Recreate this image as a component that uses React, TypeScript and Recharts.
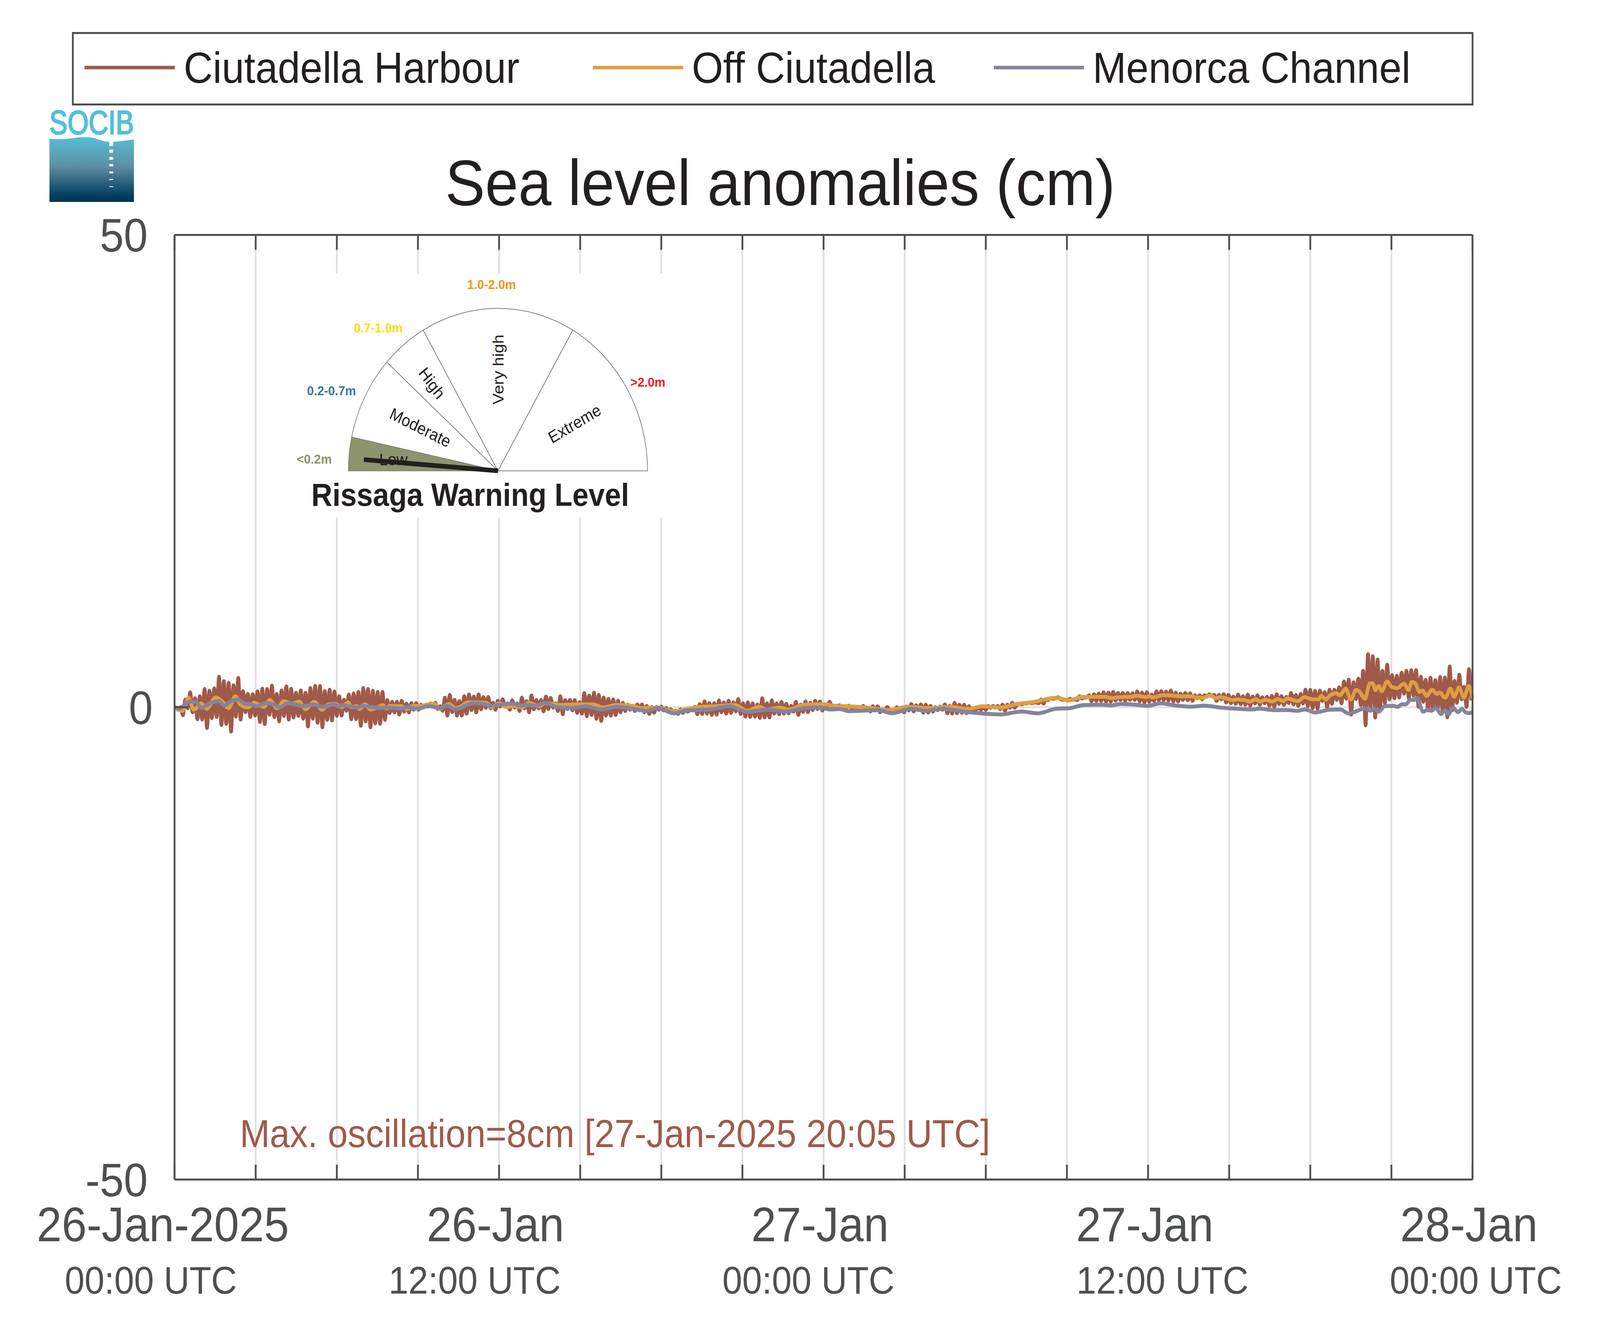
import { CartesianGrid, Cell, Line, LineChart, Pie, PieChart, XAxis, YAxis } from "recharts";

const W = 4450;
const H = 3395;
const PLOT = { left: 485.5, right: 4095.5, top: 601.5, bottom: 3020 };
const TICK_LEN = 38;
const AXIS = "#4d4f51";
const GRID = "#e0e1e3";
const INK = "#231f20";
const FONT = "'Liberation Sans', Arial, sans-serif";

const seriesNames = ["Ciutadella Harbour", "Off Ciutadella", "Menorca Channel"];
const seriesColors = ["#a05a4a", "#df9e41", "#83849e"];

const hourTicks = [0, 3, 6, 9, 12, 15, 18, 21, 24, 27, 30, 33, 36, 39, 42, 45, 48];
const labelledHours = [0, 12, 24, 36, 48];
const dateLabels = ["26-Jan-2025", "26-Jan", "27-Jan", "27-Jan", "28-Jan"];
const timeLabels = ["00:00 UTC", "12:00 UTC", "00:00 UTC", "12:00 UTC", "00:00 UTC"];
const cmTicks = [-50, 0, 50];

// Harbour: successive crests and troughs of the seiche, read peak by peak
const harbourHigh = [
  0.1, 0, 0.82, 1.57, 0.95, 1.16, 1.92, 1.75, 1.99, 3.23,
  2.75, 2.57, 2.33, 3.09, 1.71, 1.41, 1.37, 1.67, 1.95, 1.92,
  2.29, 1.41, 1.78, 2.2, 1.95, 1.53, 1.78, 1.53, 2.03, 2.24,
  2.24, 1.71, 1.85, 1.67, 1.16, 0.79, 1.34, 1.46, 1.62,
  2.03, 1.92, 1.74, 1.62, 1.62, 0.75, 0.58, 0.58, 0.68, 0.37,
  0.43, 0.43, 0.26, 0.26, 0.4, 0.47, 0.1, 1.0, 1.3, 0.79,
  0.65, 1.16, 1.34, 1.12, 1.34, 1.06, 1.09, 0.47, 0.68, 0.84,
  0.4, 0.72, 0.4, 1.01, 0.64, 1.24, 0.75, 0.76, 1.13,
  0.98, 0.4, 1.16, 0.75, 0.78, 0.75, 0.54, 1.5, 1.23, 1.53,
  1.3, 1.02, 0.89, 0.82, 0.68, 0.47, 0.27, 0.13, 0.29,
  0.29, 0.13, 0.03, 0.03, 0.06, -0.08, -0.22, -0.36, -0.22, -0.22,
  -0.29, 0.03, 0.33, 0.61, 0.43, 0.43, 0.71, 0.5, 0.68, 0.51,
  0.86, 0.4, 0.51, 0.4, 0.29, 0.95, 0.4, 0.72, 0.4, 0.57,
  0.37, 0.13, 0.57, 0.27, 0.61, 0.47, 0.68, 0.61, 0.27, 0.57,
  0.13, 0.2, 0.06, 0.15, -0.18, -0.29, 0.13, -0.08, 0.1, 0.09,
  -0.22, 0.02, -0.29, 0, -0.08, 0.06, 0.33, 0.2, 0.29, 0.27,
  0.13, 0, 0.06, 0.29, 0.15, 0.47, 0.27, 0.27, 0.1, -0.15,
  0, 0.06, 0.13, 0.13, 0.13, 0.27, 0.27, 0.47, 0.27, 0.31,
  0.4, 0.43, 0.51, 0.82, 0.82, 0.95, 0.95, 0.89, 0.82, 0.89,
  0.82, 1.16, 1.02, 1.26, 1.37, 1.44, 1.57,
  1.54, 1.62, 1.51, 1.51, 1.51, 1.47, 1.67, 1.55, 1.59, 1.34,
  1.67, 1.7, 1.65, 1.76, 1.54, 1.43, 1.51, 1.47, 1.26, 1.26,
  1.26, 1.37, 1.3, 1.3, 1.37, 1.3, 1.12, 1.34, 1.17, 1.34,
  1.14, 1.26, 1.05, 1.1, 1.2, 1.37, 1.17, 1.1,
  1.51, 1.3, 1.41, 1.85, 1.83, 1.72, 1.76, 1.58, 1.85, 1.85,
  2.1, 2.72, 2.91, 2.64, 3.03, 3.85, 5.6, 5.4, 5.05, 3.85,
  4.5, 3.4, 3.33, 3.65, 3.85, 3.92, 3.92, 3.23, 2.89, 3.12,
  2.86, 3.19, 3.14, 4.31, 2.78, 3.44, 2.16, 4.02,
];

const harbourLow = [
  -0.26, -0.84, -0.1, -0.54, -1.27, -1.3, -2.19, -1.16, -1.02, -1.88,
  -1.75, -2.57, -0.99, -1.3, -0.51, -1.02, -0.88, -1.57, -1.78, -0.79,
  -1.05, -1.5, -0.92, -1.3, -1.09, -0.92, -1.21, -2.03, -1.21, -1.64,
  -2.12, -1.34, -1.41, -0.91, -0.88, -0.37, -1.27, -1.26,
  -1.96, -1.5, -2.12, -1.71, -1.75, -1.34, -0.61, -0.54, -0.76, -0.47,
  -0.54, -0.26, -0.26, 0.01, 0.08, 0.08, -0.19, -0.37, -0.88, -0.51,
  -0.88, -0.88, -0.68, -0.3, -0.54, -0.22, -0.06, -0.12, -0.26, 0.08,
  0.08, -0.26, -0.03, -0.4, -0.12, -0.54, -0.22, -0.12, -0.43, -0.19,
  -0.05, -0.4, -0.74, -0.19, -0.33, -0.6, -0.67, -0.95, -0.81, -1.22,
  -1.46, -0.88, -0.88, -0.81, -0.53, -0.4, -0.26, -0.4, -0.33,
  -0.53, -0.71, -0.57, -0.26, -0.33, -0.4, -0.53, -0.71, -0.6, -0.46,
  -0.33, -0.74, -0.71, -0.67, -0.81, -0.78, -0.53, -0.67, -0.6, -0.44,
  -0.71, -0.99, -1.02, -0.99, -1.13, -1.08, -1.08, -0.67, -0.74, -0.67,
  -0.64, -0.46, -0.81, -0.49, -0.53, -0.3, -0.19, -0.35, 0.09, 0.09,
  0.02, 0.09, -0.05, -0.05, -0.26, -0.26, -0.33, -0.44, -0.33, -0.53,
  -0.4, -0.33, -0.46, -0.46, -0.53, -0.33, -0.44, -0.3, -0.57, -0.57,
  -0.46, -0.3, -0.26, -0.64, -0.67, -0.63, -0.6, -0.63, -0.4, -0.26,
  -0.26, -0.26, -0.05, -0.05, -0.19, -0.35, -0.05, -0.05, 0.36, 0.43,
  0.5, 0.5, 0.43, 0.39, 0.78, 0.9, 1.05, 0.78, 0.71, 0.78,
  0.78, 0.94, 1.05, 0.64, 0.67, 0.67,
  0.6, 0.6, 0.71, 0.78, 0.71, 0.78, 0.78, 0.61, 0.5, 0.57,
  0.67, 0.75, 0.75, 0.71, 0.61, 0.61, 0.78, 0.75, 0.68, 0.96,
  0.85, 1.12, 1.19, 0.67, 0.85, 0.5, 0.43, 0.36, 0.32, 0.27,
  0.16, 0.4, 0.27, 0.43, 0.16, 0.06, 0.36, 0.25, 0.45,
  0.29, 0.13, 0.4, 0.11, -0.08, -0.15, 0.66, 0.02, 0.36, 0.78,
  0.4, 0.91, -0.78, 0.87, 0.22, -1.91, 0.08, -1.09, -0.4, 0.43,
  0.84, 0.95, 1.02, 1.44, 0.91, 1.22, 0.06, 0.57, -0.33, -0.2,
  -0.19, -0.33, -1.06, -0.33, 0.47, 0.84, 0.04, 0.71,
];

const offHours = [
  0, 0.3, 0.52, 0.71, 0.99, 1.19, 1.52, 1.77, 2.0, 2.25, 2.43, 2.73, 2.94, 3.1, 3.3, 3.52, 3.8, 4.03, 4.36, 4.6,
  4.85, 5.16, 5.46, 5.69, 5.93, 6.18, 6.42, 6.55, 6.73,
  6.84, 7.04, 7.24, 7.46, 7.7, 7.84, 7.95, 8.15, 8.37, 8.59, 8.83, 9.1, 9.46, 9.61, 9.79, 10.16, 10.39, 10.61, 10.85, 11.21,
  11.52, 11.72, 12.03, 12.23, 12.56, 12.87, 13.09, 13.49, 13.71,
  14.26, 14.87, 15.47, 15.85, 16.35, 16.8, 17.07,
  17.21, 17.87, 18.48, 18.86, 19.47, 20.02, 20.72, 21.18, 21.62, 21.9, 22.39, 22.72, 23.22, 23.71, 24.05, 24.38, 24.82, 25.26,
  25.81, 26.36, 27.13, 27.96, 28.68, 29.34, 29.89, 30.55, 31.1, 31.76, 32.59, 33.09, 33.53, 34.41,
  34.67, 34.94, 35.12, 35.38, 35.6, 35.91, 36.05, 36.18, 36.56, 36.89, 37.33, 37.55, 37.78, 38.0, 38.31, 38.51, 38.66, 38.93,
  39.15, 39.26, 39.59, 39.75, 39.99, 40.13, 40.35, 40.59, 40.79, 41.01,
  41.14, 41.54, 41.78, 42.03, 42.31, 42.4, 42.58, 42.71, 42.96, 43.09, 43.31, 43.5, 43.69, 43.82, 44.02, 44.2, 44.31, 44.41,
  44.53, 44.64, 44.84, 45.02, 45.22, 45.46, 45.64, 45.75, 45.88, 46.04, 46.15, 46.3, 46.5, 46.68, 46.79, 46.99, 47.18, 47.32,
  47.5, 47.68, 47.86, 48,
];

const offCm = [
  -0.03, -0.37, 1.0, -0.26, 0.39, -0.17, 1.03, 0.59, -0.1, 1.17, 0.29, -0.03, 0.48, 0.29, 0.04, 0.77, -0.12, 0.63, 0.38, 0.59,
  -0.21, 0.57, -0.26, 0.29, 0.34, 0.01, 0.52, 0.01, 0.11,
  -0.17, 0.32, -0.24, -0.07, 0.21, -0.15, 0.15, 0.11, 0.11, -0.17, 0.15, 0.11, 0.34, 0.34, -0.17, 0.34, -0.1, 0.11, 0.52, 0.52,
  0.48, 0.01, 0.43, 0.04, 0.11, 0, 0.48, 0.11, 0.43,
  0.24, 0.3, 0.3, -0.03, 0.24, 0.2, 0.04,
  -0.1, -0.03, -0.45, -0.24, 0.04, 0.1, 0.24, -0.38, 0.04, -0.24, -0.03, -0.24, 0.22, 0.31, 0.31, 0.17, 0.1, 0.04,
  -0.1, -0.31, 0.04, -0.1, 0.04, -0.17, 0.1, -0.03, 0.31, 0.55, 1.0, 0.73, 1.07, 1.11,
  0.97, 1.07, 1.09, 1.11, 1.21, 1.07, 1.14, 1.04, 1.28, 1.23, 1.14, 1.17, 1.03, 1.0, 1.25, 0.96, 1.07, 0.89,
  0.75, 0.83, 0.75, 0.59, 0.83, 0.61, 0.79, 0.61, 0.86, 0.66,
  0.93, 0.65, 1.07, 0.86, 0.83, 1.2, 0.83, 1.2, 1.48, 1.27, 1.96, 0.83, 1.83, 1.65, 0.89, 2.52, 2.52, 1.8,
  2.24, 1.69, 2.72, 2.14, 2.03, 2.49, 1.83, 2.68, 2.54, 1.62, 1.76, 1.2, 1.85, 1.41, 1.55, 1.0, 1.96, 1.11,
  2.1, 1.03, 2.24, 0.93,
];

const menorcaHours = [
  0, 0.21, 0.37, 0.59, 0.77, 0.99, 1.26, 1.63, 1.85, 2.01, 2.36, 2.59, 2.81, 3.03, 3.38, 3.65, 3.89, 4.18, 4.45, 4.76,
  5.11, 5.47, 5.89, 6.07, 6.2, 6.49, 6.77,
  6.93, 7.24, 7.59, 7.9, 8.35, 8.61, 8.97, 9.41, 9.81, 10.08, 10.39, 11.05, 11.36, 11.72, 12.16, 12.54, 12.78, 13.09, 13.31, 13.7,
  14.15, 14.7, 15.19, 15.8, 16.35, 17.12,
  17.43, 17.87, 18.48, 18.86, 19.86, 20.52, 21.18, 21.95, 22.61, 23.38, 23.83, 24.27, 24.6, 24.93, 26.03, 26.53, 27.24, 27.79,
  28.35, 29.34, 30.55, 31.32, 31.93, 32.59, 33.09, 33.64,
  34.23, 34.67, 34.98, 35.56, 35.96, 36.49, 36.89, 37.6, 38.09, 38.66, 39.33, 39.9, 40.08, 40.7, 41.12,
  41.54, 41.8, 42.18, 42.69, 43.11, 43.42, 43.8, 44.04, 44.22, 44.35, 44.53, 44.75, 45.09, 45.22, 45.39, 45.53, 45.71, 45.86,
  45.95, 46.17, 46.35, 46.48, 46.64, 46.84, 46.99, 47.1, 47.28, 47.46, 47.61, 47.75, 47.9, 48,
];

const menorcaCm = [
  0, -0.14, 0.29, 0.59, 0.59, -0.06, 0.32, 0.66, 0.18, 0.52, 0.8, 0.39, 0.32, 0.11, 0.43, 0.32, 0, 0.41, 0.32, 0.11,
  0.29, 0.04, 0.29, 0.07, 0.21, 0.11, -0.03,
  0.15, 0.04, -0.07, -0.03, -0.14, 0.01, -0.14, 0.11, -0.07, 0.15, -0.21, 0.43, 0.38, 0.15, 0.32, 0.38, 0.18, 0.25, 0.15, 0.45,
  0.01, -0.07, 0.1, -0.24, 0.04, -0.24,
  -0.38, -0.1, -0.65, -0.38, -0.21, 0.1, -0.49, -0.24, -0.45, -0.06, -0.03, -0.24, -0.2, -0.41, -0.31, -0.63, -0.17, -0.38,
  -0.17, -0.52, -0.76, -0.45, -0.65, -0.17, -0.1, 0.24,
  0.27, 0.2, 0.34, 0.27, 0.14, 0.41, 0.24, 0.06, 0.17, -0.03, -0.17, -0.24, -0.14, -0.31, -0.3,
  -0.38, -0.24, -0.56, -0.27, -0.24, -0.66, -0.31, -0.1, -0.38, -0.13, -0.48, 0.1, 0.14, 0.03, 0.31, 0.31, 0.79, 0.79,
  0.97, -0.48, -0.24, -0.38, -0.08, -0.73, -0.31, -0.79, -0.04, -0.52, -0.17, -0.55, -0.62, -0.49,
];

// Rissaga gauge: sector names, how wide each sector is (degrees of the half circle)
const gaugeNames = ["Low", "Moderate", "High", "Very high", "Extreme"];
const gaugeWidths = [12, 30, 18, 60, 60];
const gaugeFills = ["#8c956e", "#ffffff", "#ffffff", "#ffffff", "#ffffff"];
const gaugeRanges = ["<0.2m", "0.2-0.7m", "0.7-1.0m", "1.0-2.0m", ">2.0m"];
const gaugeRangeColors = ["#8c956e", "#3a7a94", "#ffdd00", "#f7941d", "#ee1c25"];
const needleDeg = 175.6;

const cycle = 48 / harbourHigh.length;
const harbourData = harbourHigh.flatMap((hi, i) => [
  { hour: (i + 0.25) * cycle, cm: hi },
  { hour: (i + 0.75) * cycle, cm: harbourLow[i] },
]);
const offData = offHours.map((hour, i) => ({ hour, cm: offCm[i] }));
const menorcaData = menorcaHours.map((hour, i) => ({ hour, cm: menorcaCm[i] }));
const gaugeData = gaugeNames.map((name, i) => ({ name, value: gaugeWidths[i] }));

const GAUGE = { cx: 1385, cy: 1205.5, r: 416, needle: 374 };

// where each label's centre sits relative to its tick, the original is not regular
const dateShift = [-32.5, -10, -10, -9, -10];
const timeShift = [-66, -68, -42, 40, 9];

const gaugeLabels = [
  { x: 1169, y: 1095, rot: 25 },
  { x: 1201, y: 981, rot: 52 },
  { x: 1386, y: 946, rot: -90 },
  { x: 1598, y: 1085, rot: -29 },
];
const rangeSpots = [
  { x: 874, y: 1187 },
  { x: 922, y: 1012 },
  { x: 1052, y: 851 },
  { x: 1367, y: 740 },
  { x: 1802, y: 990 },
];
const legendSpots = [
  { line: 235, text: 511 },
  { line: 1649, text: 1924 },
  { line: 2764, text: 3039 },
];

function XTick({ x, payload }: any) {
  const k = labelledHours.indexOf(payload.value);
  return (
    <g>
      <line x1={x} x2={x} y1={PLOT.bottom} y2={PLOT.bottom - TICK_LEN} stroke={AXIS} strokeWidth={5} />
      <line x1={x} x2={x} y1={PLOT.top} y2={PLOT.top + TICK_LEN} stroke={AXIS} strokeWidth={5} />
      {k >= 0 && (
        <>
          <text x={x + dateShift[k]} y={3178} textAnchor="middle" fontSize={125} fontFamily={FONT} fill={AXIS}>
            {dateLabels[k]}
          </text>
          <text x={x + timeShift[k]} y={3312} textAnchor="middle" fontSize={99} fontFamily={FONT} fill={AXIS}>
            {timeLabels[k]}
          </text>
        </>
      )}
    </g>
  );
}

function YTick({ y, payload }: any) {
  const v = payload.value;
  return (
    <g>
      {v === 0 && <line x1={PLOT.left} x2={PLOT.left + TICK_LEN} y1={y} y2={y} stroke={AXIS} strokeWidth={5} />}
      <text x={v === 0 ? 425 : 411} y={y + 43} textAnchor="end" fontSize={120} fontFamily={FONT} fill={AXIS}>
        {v}
      </text>
    </g>
  );
}

function RightTick({ y, payload }: any) {
  if (payload.value !== 0) return <g />;
  return <line x1={PLOT.right} x2={PLOT.right - TICK_LEN} y1={y} y2={y} stroke={AXIS} strokeWidth={5} />;
}

const layer = { position: "absolute", left: 0, top: 0, width: W, height: H } as const;

function Logo() {
  const dashes = [[363, 11], [383, 8], [402, 7], [420, 6], [439, 5], [458, 3], [477, 2]];
  return (
    <g>
      <defs>
        <linearGradient id="sea" x1="0" x2="0" y1="0" y2="1">
          <stop offset="0" stopColor="#55bfd6" />
          <stop offset="0.45" stopColor="#5d8fa3" />
          <stop offset="0.92" stopColor="#003a5e" />
          <stop offset="1" stopColor="#003659" />
        </linearGradient>
      </defs>
      <text
        x={137.5}
        y={343}
        fontSize={85}
        fontFamily={FONT}
        fill="#52c0d6"
        stroke="#52c0d6"
        strokeWidth={3}
        textLength={235}
        lengthAdjust="spacingAndGlyphs"
      >
        SOCIB
      </text>
      <path d="M137.5 355 Q170 358 200 354 Q240 348 265 354 Q285 362 304 363 L315 363 Q345 361 372.5 357 L372.5 517 L137.5 517 Z" fill="url(#sea)" />
      {dashes.map(([y, h]) => (
        <rect key={y} x={304} y={y} width={10.7} height={h} fill="#ffffff" />
      ))}
    </g>
  );
}

export default function App() {
  const toRad = (needleDeg * Math.PI) / 180;
  // the browser caps the window at 4096px wide, so the 4450px layout is squeezed to fit
  const fit = Math.min(1, window.innerWidth / W);
  return (
    <div
      style={{
        position: "absolute",
        left: 0,
        top: 0,
        width: W,
        height: H,
        background: "#ffffff",
        transform: `scaleX(${fit})`,
        transformOrigin: "0 0",
      }}
    >
      <div style={layer}>
        {/* the axes take 1px each, an axis of size 0 is not drawn at all */}
        <LineChart
          width={W}
          height={H}
          margin={{ top: PLOT.top - 1, left: PLOT.left - 1, right: W - PLOT.right - 1, bottom: H - PLOT.bottom - 1 }}
        >
          <CartesianGrid stroke={GRID} strokeWidth={5} />
          <XAxis
            dataKey="hour"
            type="number"
            domain={[0, 48]}
            ticks={hourTicks}
            interval={0}
            height={1}
            tick={<XTick />}
            tickLine={false}
            axisLine={{ stroke: AXIS, strokeWidth: 5 }}
          />
          <XAxis
            xAxisId="top"
            orientation="top"
            dataKey="hour"
            type="number"
            domain={[0, 48]}
            height={1}
            tick={false}
            tickLine={false}
            axisLine={{ stroke: AXIS, strokeWidth: 5 }}
          />
          <YAxis
            type="number"
            domain={[-50, 50]}
            ticks={cmTicks}
            interval={0}
            width={1}
            tick={<YTick />}
            tickLine={false}
            axisLine={{ stroke: AXIS, strokeWidth: 5 }}
          />
          <YAxis
            yAxisId="right"
            orientation="right"
            type="number"
            domain={[-50, 50]}
            ticks={cmTicks}
            interval={0}
            width={1}
            tick={<RightTick />}
            tickLine={false}
            axisLine={{ stroke: AXIS, strokeWidth: 5 }}
          />
          <Line data={harbourData} dataKey="cm" type="monotone" stroke={seriesColors[0]} strokeWidth={10} strokeLinejoin="round" dot={false} isAnimationActive={false} />
          <Line data={offData} dataKey="cm" type="monotone" stroke={seriesColors[1]} strokeWidth={10} strokeLinejoin="round" dot={false} isAnimationActive={false} />
          <Line data={menorcaData} dataKey="cm" type="monotone" stroke={seriesColors[2]} strokeWidth={10} strokeLinejoin="round" dot={false} isAnimationActive={false} />
        </LineChart>
      </div>

      <svg width={W} height={H} style={layer}>
        <text x={2170} y={525} textAnchor="middle" fontSize={166} fontFamily={FONT} fill={INK}>
          Sea level anomalies (cm)
        </text>
        <text x={667} y={2937} fontSize={100} fontFamily={FONT} fill={seriesColors[0]}>
          Max. oscillation=8cm [27-Jan-2025 20:05 UTC]
        </text>
        <rect x={202.5} y={84.5} width={3893} height={183} fill="#ffffff" stroke={AXIS} strokeWidth={5} />
        {seriesNames.map((name, i) => (
          <g key={name}>
            <line x1={legendSpots[i].line} x2={legendSpots[i].line + 251} y1={173} y2={173} stroke={seriesColors[i]} strokeWidth={9} />
            <text x={legendSpots[i].text} y={212} fontSize={112} fontFamily={FONT} fill={INK}>
              {name}
            </text>
          </g>
        ))}
        <Logo />
        <rect x={825} y={700} width={1045} height={625} fill="#ffffff" />
      </svg>

      <div style={layer}>
        <PieChart width={W} height={H} margin={{ top: 0, left: 0, right: 0, bottom: 0 }}>
          <Pie
            data={gaugeData}
            dataKey="value"
            cx={GAUGE.cx}
            cy={GAUGE.cy}
            innerRadius={0}
            outerRadius={GAUGE.r}
            startAngle={180}
            endAngle={0}
            stroke="#808080"
            strokeWidth={2}
            isAnimationActive={false}
          >
            {gaugeData.map((d, i) => (
              <Cell key={d.name} fill={gaugeFills[i]} />
            ))}
          </Pie>
        </PieChart>
      </div>

      <svg width={W} height={H} style={layer}>
        <text x={1094} y={1191} textAnchor="middle" fontSize={43} fontFamily={FONT} fill={INK}>
          {gaugeNames[0]}
        </text>
        {gaugeLabels.map((s, i) => (
          <text
            key={i}
            x={s.x}
            y={s.y}
            textAnchor="middle"
            dominantBaseline="central"
            transform={`rotate(${s.rot} ${s.x} ${s.y})`}
            fontSize={43}
            fontFamily={FONT}
            fill={INK}
          >
            {gaugeNames[i + 1]}
          </text>
        ))}
        {gaugeRanges.map((t, i) => (
          <text key={t} x={rangeSpots[i].x} y={rangeSpots[i].y} textAnchor="middle" fontSize={34} fontWeight="bold" fontFamily={FONT} fill={gaugeRangeColors[i]}>
            {t}
          </text>
        ))}
        <line
          x1={GAUGE.cx}
          y1={GAUGE.cy}
          x2={GAUGE.cx + GAUGE.needle * Math.cos(toRad)}
          y2={GAUGE.cy - GAUGE.needle * Math.sin(toRad)}
          stroke={INK}
          strokeWidth={12}
        />
        <text x={866} y={1295} fontSize={81} fontWeight="bold" fontFamily={FONT} fill={INK}>
          Rissaga Warning Level
        </text>
      </svg>
    </div>
  );
}
